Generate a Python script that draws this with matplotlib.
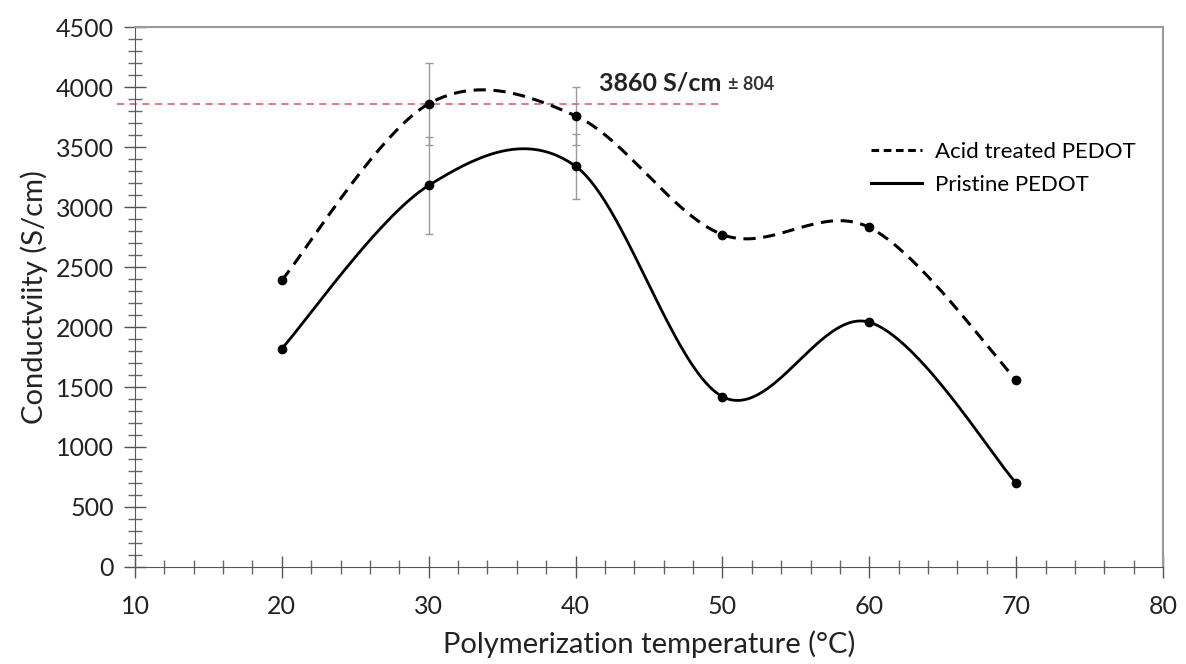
import numpy as np
import matplotlib
matplotlib.use('Agg')
import matplotlib.pyplot as plt
from matplotlib.ticker import MultipleLocator
from matplotlib.lines import Line2D

plt.rcParams.update({'font.family': ['Lato', 'DejaVu Sans'], 'font.size': 15})

temps = [20, 30, 40, 50, 60, 70]
acid = [2390, 3860, 3760, 2770, 2830, 1560]
pristine = [1820, 3180, 3340, 1420, 2040, 700]

err_x = [30, 40]
acid_err = [340, 240]
pristine_err = [405, 270]
acid_err_y = [3860, 3760]
pristine_err_y = [3180, 3340]

peak_value = 3860
peak_text = '3860 S/cm'
peak_pm = '± 804'


def smooth(x, y, n=60):
    # Excel-style smoothed line (Catmull-Rom as cubic Bezier segments)
    p = np.column_stack([x, y]).astype(float)
    segs = []
    t = np.linspace(0, 1, n)[:, None]
    for i in range(len(p) - 1):
        p0 = p[max(i - 1, 0)]
        p1 = p[i]
        p2 = p[i + 1]
        p3 = p[min(i + 2, len(p) - 1)]
        c1 = p1 + (p2 - p0) / 6
        c2 = p2 - (p3 - p1) / 6
        b = ((1 - t) ** 3) * p1 + 3 * ((1 - t) ** 2) * t * c1 \
            + 3 * (1 - t) * t ** 2 * c2 + t ** 3 * p2
        segs.append(b if i == 0 else b[1:])
    s = np.vstack(segs)
    return s[:, 0], s[:, 1]


fig = plt.figure(figsize=(11.86, 6.64), dpi=100)
ax = fig.add_axes([0.1138, 0.1461, 0.8668, 0.8132])

# error bars
ax.errorbar(err_x, acid_err_y, yerr=acid_err, fmt='none', ecolor='#9a9a9a',
            elinewidth=1, capsize=3, capthick=1, zorder=2)
ax.errorbar(err_x, pristine_err_y, yerr=pristine_err, fmt='none', ecolor='#9a9a9a',
            elinewidth=1, capsize=3, capthick=1, zorder=2)

sx, sy = smooth(temps, acid)
ax.plot(sx, sy, color='black', lw=2.2, ls=(0, (4, 2.5)), zorder=3)
ax.plot(temps, acid, 'o', color='black', ms=6, zorder=4)

sx, sy = smooth(temps, pristine)
ax.plot(sx, sy, color='black', lw=2.0, zorder=3)
ax.plot(temps, pristine, 'o', color='black', ms=6, zorder=4)

# peak reference line
ax.plot([8.8, 49.8], [peak_value, peak_value], color='#e07070', lw=1.3,
        ls=(0, (4, 3)), clip_on=False, zorder=1)
ax.text(41.6, 4035, peak_text, fontsize=18, fontweight='bold', va='center', ha='left',
        color='#222222')
ax.text(50.4, 4025, peak_pm, fontsize=13, fontweight='bold', va='center', ha='left',
        color='#333333')

ax.set_xlim(10, 80)
ax.set_ylim(0, 4500)
ax.xaxis.set_major_locator(MultipleLocator(10))
ax.xaxis.set_minor_locator(MultipleLocator(2))
ax.yaxis.set_major_locator(MultipleLocator(500))
ax.yaxis.set_minor_locator(MultipleLocator(100))
ax.tick_params(which='major', direction='inout', length=16, width=1, color='#555555',
               labelsize=18, labelcolor='#222222')
ax.tick_params(which='minor', direction='inout', length=10, width=1, color='#666666')
ax.tick_params(axis='x', which='major', pad=12)
ax.tick_params(axis='y', which='major', pad=7)

for side in ['left', 'bottom']:
    ax.spines[side].set_color('#555555')
for side in ['top', 'right']:
    ax.spines[side].set_color('#999999')
    ax.spines[side].set_linewidth(1.5)

ax.set_xlabel('Polymerization temperature (°C)', fontsize=21, color='#222222', labelpad=9)
ax.set_ylabel('Conductviity (S/cm)', fontsize=21, color='#222222', labelpad=6)

handles = [Line2D([], [], color='black', lw=2.2, ls=(0, (2.5, 1.5))),
           Line2D([], [], color='black', lw=2.2)]
ax.legend(handles, ['Acid treated PEDOT', 'Pristine PEDOT'], loc='upper right',
          bbox_to_anchor=(0.993, 0.825), frameon=False, fontsize=16,
          handlelength=2.3, handletextpad=0.6, labelspacing=0.6)

fig.savefig('out.png', dpi=100)
